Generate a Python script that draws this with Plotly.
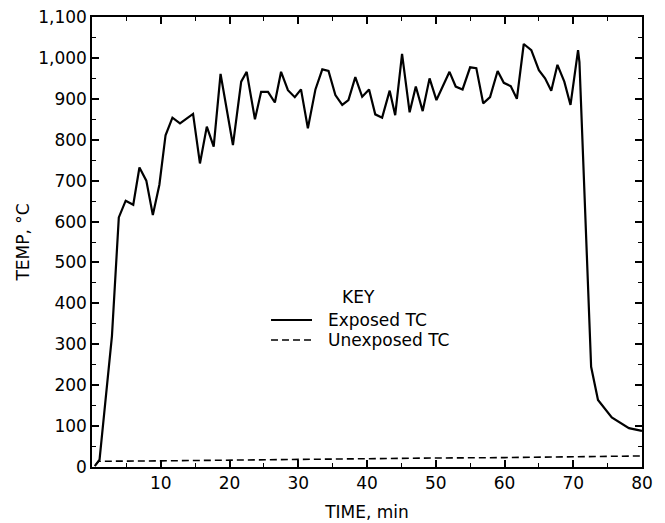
import plotly.graph_objects as go

# Exposed thermocouple (time in min, temperature in °C)
exposed_t = [0.4, 1.1, 2.9, 3.9, 4.9, 6.0, 6.9, 7.9, 8.85, 9.8, 10.7, 11.7, 12.8, 13.7, 14.7,
             15.7, 16.7, 17.7, 18.7, 20.5, 21.7, 22.5, 23.7, 24.6, 25.6, 26.6, 27.5, 28.5,
             29.5, 30.4, 31.4, 32.5, 33.5, 34.4, 35.4, 36.4, 37.3, 38.3, 39.3, 40.3, 41.2,
             42.2, 43.3, 44.1, 45.1, 46.2, 47.1, 48.1, 49.1, 50.1, 52.0, 52.9, 53.9, 55.0,
             55.9, 56.9, 57.9, 59.0, 59.9, 60.9, 61.8, 62.8, 63.9, 65.0, 65.9, 66.8, 67.7,
             68.7, 69.6, 70.7, 70.9, 72.6, 73.6, 75.6, 78.1, 79.8, 80.0]
exposed_v = [2, 18, 320, 610, 651, 641, 732, 700, 616, 690, 811, 854, 840, 851, 863,
             742, 832, 783, 961, 787, 942, 966, 850, 917, 917, 891, 966, 921,
             904, 923, 828, 923, 972, 968, 909, 885, 897, 953, 905, 923, 862,
             854, 920, 860, 1010, 867, 930, 870, 950, 897, 966, 930, 923, 977,
             975, 889, 904, 968, 939, 931, 900, 1034, 1019, 970, 950, 920, 983,
             942, 885, 1019, 990, 245, 164, 121, 95, 89, 88]

# Unexposed thermocouple
unexposed_t = [0.5, 1.0, 10, 20, 30, 40, 50, 60, 70, 80]
unexposed_v = [5, 14, 15, 17, 19, 20, 22, 23, 25, 27]

x_tick_vals = [10, 20, 30, 40, 50, 60, 70, 80]
y_tick_vals = [0, 100, 200, 300, 400, 500, 600, 700, 800, 900, 1000, 1100]
y_tick_text = ["0", "100", "200", "300", "400", "500", "600", "700", "800", "900", "1,000", "1,100"]

FONT = "DejaVu Sans"
DASH = "7px,4px"

fig = go.Figure()
fig.add_trace(go.Scatter(x=exposed_t, y=exposed_v, mode="lines", name="Exposed TC",
                         line=dict(color="black", width=2.2), showlegend=False))
fig.add_trace(go.Scatter(x=unexposed_t, y=unexposed_v, mode="lines", name="Unexposed TC",
                         line=dict(color="black", width=1.6, dash=DASH), showlegend=False))

axis_common = dict(showline=True, linecolor="black", linewidth=1.5, mirror="ticks",
                   ticks="inside", ticklen=7, tickwidth=1.5, tickcolor="black",
                   showgrid=False, zeroline=False, automargin=False,
                   tickfont=dict(family=FONT, size=17, color="black"))

fig.update_xaxes(range=[0, 80], tickvals=x_tick_vals, ticktext=[str(v) for v in x_tick_vals],
                 minor=dict(ticks="inside", ticklen=4, tickwidth=1.2, tickcolor="black",
                            tick0=0, dtick=5),
                 title=dict(text="TIME, min", font=dict(family=FONT, size=17, color="black"),
                            standoff=14),
                 **axis_common)
fig.update_yaxes(range=[0, 1100], tickvals=y_tick_vals, ticktext=y_tick_text,
                 minor=dict(ticks="inside", ticklen=4, tickwidth=1.2, tickcolor="black",
                            tick0=0, dtick=50),
                 title=dict(text="TEMP, °C", font=dict(family=FONT, size=17, color="black"),
                            standoff=4),
                 **axis_common)

# Key (legend drawn as annotations + sample lines)
fig.add_annotation(xref="paper", yref="paper", x=0.4845, y=0.377, text="KEY",
                   showarrow=False, xanchor="center", yanchor="middle",
                   font=dict(family=FONT, size=17, color="black"))
fig.add_shape(type="line", xref="paper", yref="paper", x0=0.3255, x1=0.40, y0=0.3267, y1=0.3267,
              line=dict(color="black", width=2))
fig.add_shape(type="line", xref="paper", yref="paper", x0=0.3255, x1=0.40, y0=0.2822, y1=0.2822,
              line=dict(color="black", width=1.6, dash=DASH))
fig.add_annotation(xref="paper", yref="paper", x=0.4255, y=0.3267, text="Exposed TC",
                   showarrow=False, xanchor="left", yanchor="middle",
                   font=dict(family=FONT, size=17, color="black"))
fig.add_annotation(xref="paper", yref="paper", x=0.4255, y=0.2822, text="Unexposed TC",
                   showarrow=False, xanchor="left", yanchor="middle",
                   font=dict(family=FONT, size=17, color="black"))

fig.update_layout(width=665, height=523, margin=dict(l=92, r=23, t=17, b=56),
                  paper_bgcolor="white", plot_bgcolor="white",
                  font=dict(family=FONT, size=17, color="black"))

fig.write_html("out.html")
